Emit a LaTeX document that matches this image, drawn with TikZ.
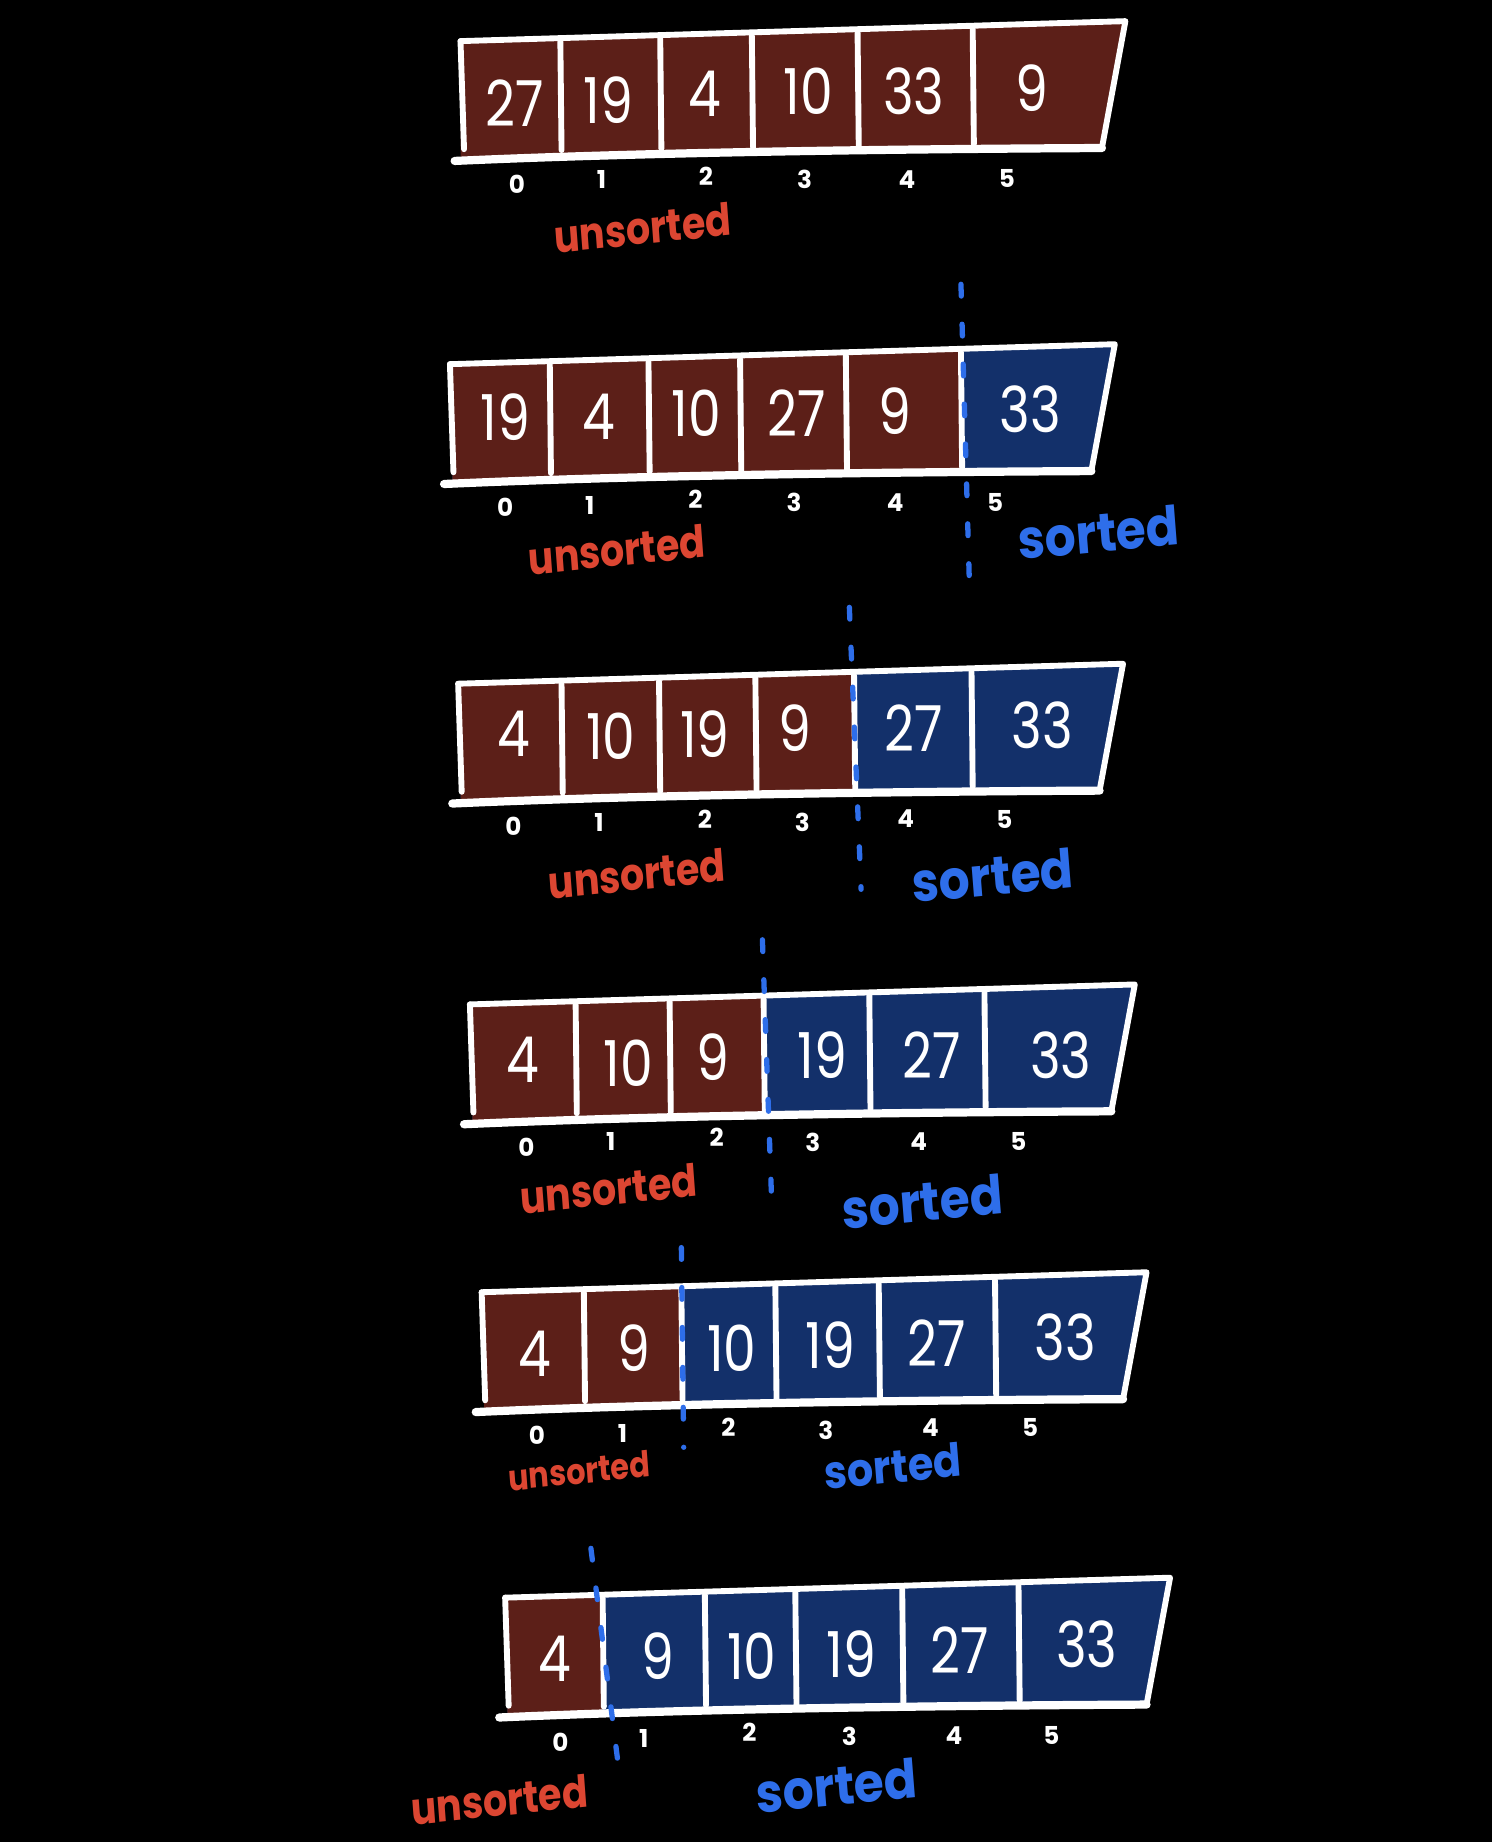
\documentclass[tikz,border=0pt]{standalone}
\usepackage{fontspec}
\setmainfont{Poppins}
\definecolor{brownfill}{HTML}{5C1F18}
\definecolor{bluefill}{HTML}{13306A}
\definecolor{redtxt}{HTML}{DC4632}
\definecolor{bluetxt}{HTML}{2E6EEA}
% #1 xL, #2 yT, #3 split x, #4 base colour, #5 dividers
\newcommand\arrbox[5]{%
  \pgfmathsetmacro\xL{#1}\pgfmathsetmacro\yT{#2}%
  \pgfmathsetmacro\xR{#1+566}\pgfmathsetmacro\yTR{#2-17}%
  \pgfmathsetmacro\xBR{#1+546}\pgfmathsetmacro\yBR{#2+91}%
  \pgfmathsetmacro\yBL{#2+100}%
  \pgfmathsetmacro\xS{#3}%
  \pgfmathsetmacro\yTS{#2-17*(#3-#1)/566}%
  \pgfmathsetmacro\yBS{#2+98-8*(#3-#1)/546}%
  \fill[#4] (\xL+2,\yT) -- (\xR,\yTR) -- (\xBR,\yBR) -- (\xL+2,\yBL) -- cycle;
  \fill[brownfill] (\xL+2,\yT) -- (\xS,\yTS) -- (\xS,\yBS) -- (\xL+2,\yBL) -- cycle;
  \draw[wline] (\xL,\yT) -- (\xR,\yTR) -- (\xBR,\yBR);
  \draw[wline] (\xL,\yT) -- (\xL+3,\yT+92);
  \foreach \dv in {#5}{%
    \pgfmathsetmacro\yt{#2-17*(\dv-#1)/566}%
    \pgfmathsetmacro\yb{#2+94-8*(\dv-#1)/546}%
    \draw[wline] (\dv,\yt+3) -- (\dv+1,\yb);
  }
  \draw[bline] (\xL-5,\yT+102) .. controls (\xL+150,\yT+95) and (\xL+350,\yT+92) .. (\xBR,\yBR);
}
\begin{document}
\begin{tikzpicture}[x=1pt,y=-1pt,
  wline/.style={white,line width=5pt,line cap=round,line join=round},
  bline/.style={white,line width=7pt,line cap=round},
  num/.style={text=white,font=\fontsize{54}{54}\selectfont,xscale=0.82,inner sep=0pt},
  idx/.style={text=white,font=\fontsize{21}{21}\selectfont\bfseries,inner sep=0pt},
  uns/.style={text=redtxt,font=\fontsize{38}{38}\selectfont\bfseries,xscale=0.85,rotate=5,inner sep=0pt},
  srt/.style={text=bluetxt,font=\fontsize{46}{46}\selectfont\bfseries,xscale=0.9,rotate=5,inner sep=0pt},
  sep/.style={bluetxt,line width=4.5pt,line cap=round,dash pattern=on 10pt off 24pt}]
\fill[black] (0,0) rectangle (1270,1568);
\useasboundingbox (0,0) rectangle (1270,1568);

% ---------- array 1
\arrbox{392}{35}{392}{brownfill}{477,562,640,730,828}
\foreach \v/\x/\y [count=\i] in {27/438/88,19/518/85,4/600/80,10/688/78,33/778/78,9/878/75}
  \node[num] (a1v\i) at (\x,\y) {\v};
\foreach \x/\y [count=\i from 0] in {440/157,512/153,601/150,685/153,772/153,857/152}
  \node[idx] (a1i\i) at (\x,\y) {\i};
\node[uns] (a1u) at (547,194) {unsorted};

% ---------- array 2
\arrbox{383}{310}{818}{bluefill}{468,552,630,720,818}
\foreach \v/\x/\y [count=\i] in {19/430/355,4/510/355,10/593/352,27/678/352,9/762/350,33/877/348}
  \node[num] (a2v\i) at (\x,\y) {\v};
\foreach \x/\y [count=\i from 0] in {430/432,502/430,592/425,676/428,762/428,847/428}
  \node[idx] (a2i\i) at (\x,\y) {\i};
\node[uns] (a2u) at (525,468) {unsorted};
\node[srt] (a2s) at (935,453) {sorted};
\coordinate (a2t) at (818,242); \coordinate (a2b) at (825,490);
\draw[sep] (a2t) -- (a2b);

% ---------- array 3
\arrbox{390}{582}{727}{bluefill}{478,561,643,727,827}
\foreach \v/\x/\y [count=\i] in {4/437/625,10/520/627,19/600/625,9/677/620,27/778/620,33/887/617}
  \node[num] (a3v\i) at (\x,\y) {\v};
\foreach \x/\y [count=\i from 0] in {437/703,510/700,600/697,683/700,771/697,855/698}
  \node[idx] (a3i\i) at (\x,\y) {\i};
\node[uns] (a3u) at (542,744) {unsorted};
\node[srt] (a3s) at (845,745) {sorted};
\coordinate (a3t) at (723,517); \coordinate (a3b) at (733,757);
\draw[sep] (a3t) -- (a3b);

% ---------- array 4
\arrbox{400}{855}{650}{bluefill}{490,570,650,740,838}
\foreach \v/\x/\y [count=\i] in {4/445/902,10/535/905,9/607/900,19/700/898,27/793/898,33/903/898}
  \node[num] (a4v\i) at (\x,\y) {\v};
\foreach \x/\y [count=\i from 0] in {448/977,520/972,610/968,692/972,782/972,867/972}
  \node[idx] (a4i\i) at (\x,\y) {\i};
\node[uns] (a4u) at (518,1012) {unsorted};
\node[srt] (a4s) at (785,1023) {sorted};
\coordinate (a4t) at (649,800); \coordinate (a4b) at (657,1026);
\draw[sep] (a4t) -- (a4b);

% ---------- array 5
\arrbox{410}{1100}{580}{bluefill}{497,580,660,748,847}
\foreach \v/\x/\y [count=\i] in {4/455/1152,9/540/1148,10/623/1148,19/707/1145,27/797/1143,33/907/1138}
  \node[num] (a5v\i) at (\x,\y) {\v};
\foreach \x/\y [count=\i from 0] in {457/1222,530/1220,620/1215,703/1218,792/1215,877/1215}
  \node[idx] (a5i\i) at (\x,\y) {\i};
\node[uns,scale=0.8] (a5u) at (493,1252) {unsorted};
\node[srt,scale=0.85] (a5s) at (760,1248) {sorted};
\coordinate (a5t) at (580,1062); \coordinate (a5b) at (582,1232);
\draw[sep] (a5t) -- (a5b);

% ---------- array 6
\arrbox{430}{1360}{513}{bluefill}{513,600,677,768,867}
\foreach \v/\x/\y [count=\i] in {4/472/1412,9/560/1410,10/640/1410,19/725/1408,27/817/1405,33/925/1400}
  \node[num] (a6v\i) at (\x,\y) {\v};
\foreach \x/\y [count=\i from 0] in {477/1483,548/1480,638/1475,723/1478,812/1477,895/1477}
  \node[idx] (a6i\i) at (\x,\y) {\i};
\node[uns] (a6u) at (425,1532) {unsorted};
\node[srt] (a6s) at (712,1520) {sorted};
\coordinate (a6t) at (503,1318); \coordinate (a6b) at (527,1508);
\draw[sep] (a6t) -- (a6b);
\end{tikzpicture}
\end{document}
